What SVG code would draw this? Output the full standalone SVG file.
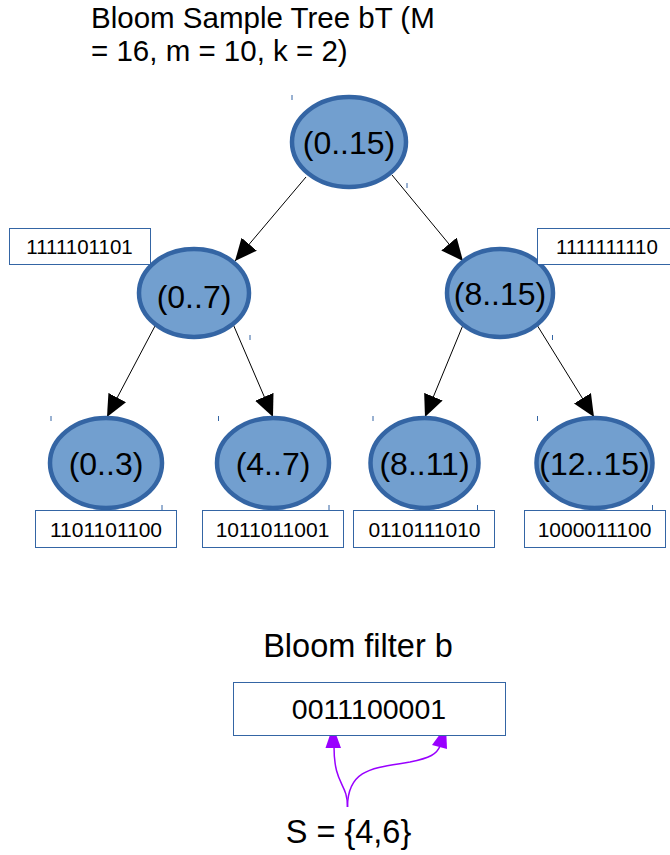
<svg xmlns="http://www.w3.org/2000/svg" width="670" height="855" viewBox="0 0 670 855">
<style>
text{font-family:"Liberation Sans",Arial,sans-serif;fill:#000}
.node ellipse{fill:#729fcf;stroke:#3465a4;stroke-width:4.5}
.node text{font-size:32px;text-anchor:middle}
.box rect{fill:#fff;stroke:#3465a4;stroke-width:1}
.box text{text-anchor:middle}
.t20{font-size:20.5px}
.t21{font-size:21px}
.edge{stroke:#000;stroke-width:1;fill:none;marker-end:url(#ah)}
.tick{stroke:#3465a4;stroke-width:1}
.purple{stroke:#9900ff;stroke-width:1.5;fill:none}
</style>
<defs>
<marker id="ah" viewBox="0 0 22 20" refX="22" refY="10" markerWidth="22" markerHeight="20" markerUnits="userSpaceOnUse" orient="auto"><path d="M0,0 L22,10 L0,20 z" fill="#000"/></marker>
</defs>
<g id="title"><text x="91" y="28" font-size="29.5">Bloom Sample Tree bT (M</text><text x="91" y="61" font-size="29.5">= 16, m = 10, k = 2)</text></g>
<g id="connectors">
<line class="edge" x1="306" y1="177" x2="235" y2="261"/>
<line class="edge" x1="392" y1="175" x2="463" y2="261"/>
<line class="edge" x1="155" y1="326" x2="107" y2="417"/>
<line class="edge" x1="233" y1="324" x2="273" y2="417"/>
<line class="edge" x1="463" y1="325" x2="425" y2="417"/>
<line class="edge" x1="537" y1="325" x2="594" y2="417"/>
<path class="purple" d="M347.5,807 C347.5,782 334,786 334,746"/>
<path class="purple" d="M347.5,807 C347.5,768 375,768 410,762 C430,758 437,754 440,746"/>
<polygon points="333,726 325.5,748 341,748" fill="#9900ff"/>
<polygon points="446,726 432,745 447,749" fill="#9900ff"/>
</g>
<g id="ticks">
<line class="tick" x1="292" y1="95" x2="292" y2="100"/>
<line class="tick" x1="407" y1="183" x2="407" y2="188"/>
<line class="tick" x1="140" y1="246" x2="140" y2="251"/>
<line class="tick" x1="250" y1="335" x2="250" y2="340"/>
<line class="tick" x1="552.5" y1="335" x2="552.5" y2="340"/>
<line class="tick" x1="51" y1="416" x2="51" y2="421"/>
<line class="tick" x1="218.5" y1="416" x2="218.5" y2="421"/>
<line class="tick" x1="373" y1="416" x2="373" y2="421"/>
<line class="tick" x1="537.5" y1="416" x2="537.5" y2="421"/>
<line class="tick" x1="162" y1="505" x2="162" y2="510"/>
<line class="tick" x1="329" y1="505" x2="329" y2="510"/>
<line class="tick" x1="477.5" y1="505" x2="477.5" y2="510"/>
<line class="tick" x1="652.5" y1="505" x2="652.5" y2="510"/>
</g>
<g id="n-root" class="node"><ellipse cx="349" cy="142" rx="57" ry="45"/><text x="349" y="154">(0..15)</text></g>
<g id="n-0-7" class="node"><ellipse cx="194" cy="293" rx="55" ry="44"/><text x="194" y="308">(0..7)</text></g>
<g id="n-8-15" class="node"><ellipse cx="500" cy="293" rx="53" ry="44"/><text x="500" y="305">(8..15)</text></g>
<g id="n-0-3" class="node"><ellipse cx="106" cy="463" rx="56" ry="45"/><text x="106" y="475">(0..3)</text></g>
<g id="n-4-7" class="node"><ellipse cx="273" cy="463" rx="56" ry="45"/><text x="273" y="475">(4..7)</text></g>
<g id="n-8-11" class="node"><ellipse cx="424.5" cy="463" rx="54" ry="45"/><text x="424.5" y="475">(8..11)</text></g>
<g id="n-12-15" class="node"><ellipse cx="594.5" cy="463" rx="58" ry="45"/><text x="594.5" y="475">(12..15)</text></g>
<g id="b-0-7" class="box"><rect x="9.5" y="228.5" width="141" height="36"/><text class="t20" x="79.5" y="254">1111101101</text></g>
<g id="b-8-15" class="box"><rect x="537.5" y="228.5" width="140" height="36"/><text class="t20" x="607" y="254">1111111110</text></g>
<g id="b-0-3" class="box"><rect x="35.5" y="510.5" width="141" height="37"/><text class="t21" x="106" y="537">1101101100</text></g>
<g id="b-4-7" class="box"><rect x="202.5" y="510.5" width="141" height="37"/><text class="t21" x="272.5" y="537">1011011001</text></g>
<g id="b-8-11" class="box"><rect x="353.5" y="510.5" width="141" height="37"/><text class="t21" x="424.5" y="537">0110111010</text></g>
<g id="b-12-15" class="box"><rect x="524.5" y="510.5" width="141" height="37"/><text class="t21" x="594.5" y="537">1000011100</text></g>
<g id="bloom-title"><text x="358" y="657" font-size="32.5" text-anchor="middle">Bloom filter b</text></g>
<g id="bloom-filter" class="box"><rect x="233.5" y="682.5" width="272" height="53"/><text x="369" y="719" style="font-size:28.5px">0011100001</text></g>
<g id="set-s"><text x="348.5" y="843" font-size="32.5" text-anchor="middle">S = {4,6}</text></g>
</svg>
